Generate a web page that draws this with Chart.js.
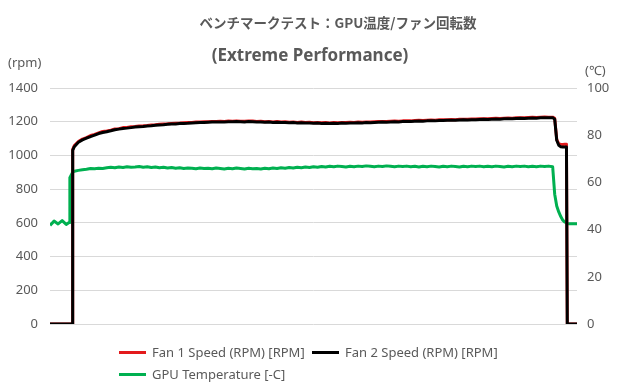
<!DOCTYPE html>
<html>
<head>
<meta charset="utf-8">
<script src="https://cdn.jsdelivr.net/npm/chart.js@4"></script>
<style>
  body { margin: 0; background: #fff; }
  #wrap { position: relative; width: 620px; height: 390px; font-family: "Noto Sans", sans-serif; color: #595959; }
  canvas { position: absolute; left: 0; top: 0; }
  .t { position: absolute; white-space: nowrap; }
  .title { font-weight: bold; transform: translateX(-50%); }
  .unit { font-size: 13px; }
  .leg { position: absolute; font-size: 13px; display: flex; align-items: center; white-space: nowrap; }
  .leg i { display: inline-block; width: 27px; height: 3px; margin-right: 6px; }
</style>
</head>
<body>
<div id="wrap">
  <canvas id="chart" width="620" height="390"></canvas>
  <div class="t title" style="left:338px; top:12px; font-family:'Noto Sans CJK JP', sans-serif; font-size:13.5px;">ベンチマークテスト：GPU温度/ファン回転数</div>
  <div class="t title" style="left:310px; top:43px; font-family:'Noto Sans', sans-serif; font-size:17px;">(Extreme Performance)</div>
  <div class="t unit" style="left:8px; top:53px;">(rpm)</div>
  <div class="t unit" style="left:585px; top:61px;">(℃)</div>
  <div id="legend"></div>
</div>
<script>
// sample times (s)
const times = [
  0, 10, 20, 30, 40, 47, 49, 55, 56, 60, 70, 80, 90,
  100, 110, 120, 130, 140, 150, 160, 170, 180, 190,
  200, 210, 220, 230, 240, 250, 260, 270, 280, 290,
  300, 310, 320, 330, 340, 350, 360, 370, 380, 390,
  400, 410, 420, 430, 440, 450, 460, 470, 480, 490,
  500, 510, 520, 530, 540, 550, 560, 570, 580, 590,
  600, 610, 620, 630, 640, 650, 660, 670, 680, 690,
  700, 710, 720, 730, 740, 750, 760, 770, 780, 790,
  800, 810, 820, 830, 840, 850, 860, 870, 880, 890,
  900, 910, 920, 930, 940, 950, 960, 970, 980, 990,
  1000, 1010, 1020, 1030, 1040, 1050, 1060, 1070, 1080, 1090,
  1100, 1110, 1120, 1130, 1140, 1150, 1160, 1170, 1180, 1190,
  1200, 1210, 1220, 1230, 1240, 1245, 1250, 1255, 1260, 1265, 1270, 1274, 1276, 1280, 1290, 1300
];

const fan1 = [
  0, 0, 0, 0, 0, 0, 0, 0, 1036, 1058, 1082, 1097, 1106,
  1118, 1124, 1133, 1142, 1145, 1150, 1157, 1159, 1165, 1166,
  1170, 1171, 1175, 1176, 1178, 1181, 1182, 1185, 1187, 1188,
  1190, 1191, 1192, 1194, 1195, 1196, 1198, 1198, 1200, 1200,
  1202, 1201, 1203, 1202, 1204, 1203, 1205, 1203, 1203, 1204,
  1204, 1201, 1203, 1200, 1202, 1199, 1201, 1198, 1200, 1197,
  1199, 1196, 1198, 1195, 1197, 1194, 1196, 1194, 1195, 1193,
  1195, 1194, 1196, 1195, 1197, 1196, 1198, 1197, 1199, 1198,
  1200, 1201, 1202, 1201, 1203, 1204, 1203, 1205, 1206, 1205,
  1207, 1208, 1207, 1209, 1210, 1209, 1211, 1211, 1212, 1213,
  1212, 1214, 1215, 1214, 1216, 1216, 1217, 1218, 1217, 1219,
  1220, 1219, 1221, 1222, 1221, 1223, 1224, 1223, 1225, 1226,
  1225, 1227, 1228, 1227, 1227, 1220, 1095, 1068, 1066, 1065, 1066, 1066, 0, 0, 0, 0
];

const fan2 = [
  0, 0, 0, 0, 0, 0, 0, 0, 1030, 1052, 1078, 1092, 1102,
  1112, 1120, 1130, 1136, 1141, 1146, 1152, 1156, 1160, 1162,
  1165, 1168, 1170, 1172, 1175, 1176, 1179, 1181, 1182, 1185,
  1186, 1187, 1189, 1190, 1191, 1193, 1194, 1195, 1196, 1197,
  1198, 1198, 1199, 1199, 1200, 1200, 1201, 1200, 1199, 1201,
  1200, 1198, 1199, 1197, 1198, 1196, 1197, 1195, 1196, 1194,
  1195, 1193, 1194, 1192, 1193, 1191, 1192, 1190, 1191, 1189,
  1191, 1190, 1192, 1191, 1193, 1192, 1194, 1193, 1195, 1194,
  1196, 1197, 1198, 1197, 1199, 1200, 1199, 1201, 1202, 1201,
  1203, 1204, 1203, 1205, 1206, 1205, 1207, 1207, 1208, 1209,
  1208, 1210, 1211, 1210, 1212, 1212, 1213, 1214, 1213, 1215,
  1216, 1215, 1217, 1218, 1217, 1219, 1220, 1219, 1221, 1222,
  1221, 1223, 1224, 1223, 1224, 1215, 1090, 1060, 1052, 1050, 1050, 1050, 0, 0, 0, 0
];

const gpuTemp = [
  41.8, 43.6, 42.4, 43.8, 42.2, 43.0, 62.0, 64.0, 64.3, 64.7, 65.1, 65.4, 65.6,
  65.9, 65.8, 66.0, 65.9, 66.2, 66.4, 66.2, 66.5, 66.3, 66.6,
  66.4, 66.5, 66.7, 66.4, 66.6, 66.3, 66.5, 66.2, 66.4, 66.1,
  66.3, 66.0, 66.2, 65.9, 66.1, 66.0, 65.8, 66.1, 65.9, 66.0,
  65.8, 66.1, 65.9, 65.7, 66.0, 65.8, 66.1, 65.9, 65.7, 66.0,
  65.8, 65.9, 65.7, 66.0, 65.8, 66.1, 65.9, 66.2, 66.0, 66.3,
  66.1, 66.4, 66.2, 66.5, 66.3, 66.6, 66.4, 66.7, 66.5, 66.8,
  66.6, 66.9, 66.7, 66.5, 66.8, 66.6, 66.9, 66.7, 67.0, 66.8,
  66.6, 66.9, 66.7, 67.0, 66.8, 66.6, 66.9, 66.7, 66.9, 66.6,
  66.8, 66.5, 66.8, 66.6, 66.9, 66.7, 66.5, 66.8, 66.6, 66.9,
  66.7, 66.5, 66.8, 66.6, 66.9, 66.7, 66.9, 66.6, 66.8, 66.6,
  66.9, 66.7, 66.5, 66.8, 66.6, 66.9, 66.7, 66.9, 66.6, 66.8,
  66.6, 66.9, 66.7, 66.9, 66.6, 55.0, 50.0, 47.5, 45.5, 44.0, 43.2, 42.8, 42.6, 42.5, 42.5, 42.5
];

const rpmTicks = [0, 200, 400, 600, 800, 1000, 1200, 1400];
const tempTicks = [0, 20, 40, 60, 80, 100];

const seriesNames = ['Fan 1 Speed (RPM) [RPM]', 'Fan 2 Speed (RPM) [RPM]', 'GPU Temperature [-C]'];
const seriesColors = ['#e31a1c', '#000000', '#00b050'];

function points(values) {
    return times.map((t, i) => ({ x: t, y: values[i] }));
}

const ctx = document.getElementById('chart').getContext('2d');
new Chart(ctx, {
    type: 'line',
    data: {
        datasets: [
            { label: seriesNames[0], data: points(fan1), borderColor: seriesColors[0], yAxisID: 'y', order: 1 },
            { label: seriesNames[1], data: points(fan2), borderColor: seriesColors[1], yAxisID: 'y', order: 0 },
            { label: seriesNames[2], data: points(gpuTemp), borderColor: seriesColors[2], yAxisID: 'y1', order: 2 }
        ]
    },
    options: {
        responsive: false,
        animation: false,
        layout: { padding: { top: 88, bottom: 66, left: 0, right: 0 } },
        elements: {
            line: { borderWidth: 3, tension: 0, borderJoinStyle: 'round' },
            point: { radius: 0 }
        },
        plugins: { legend: { display: false }, title: { display: false }, tooltip: { enabled: false } },
        scales: {
            x: { type: 'linear', min: 0, max: 1300, display: false },
            y: {
                position: 'left',
                min: 0, max: 1400,
                afterBuildTicks: s => { s.ticks = rpmTicks.map(v => ({ value: v })); },
                afterFit: s => { s.width = 50; },
                grid: { color: '#d9d9d9', drawTicks: false },
                border: { display: false },
                ticks: { color: '#595959', padding: 12, font: { family: 'Noto Sans', size: 13 }, callback: v => String(v) }
            },
            y1: {
                position: 'right',
                min: 0, max: 100,
                afterBuildTicks: s => { s.ticks = tempTicks.map(v => ({ value: v })); },
                afterFit: s => { s.width = 43; },
                grid: { display: false, drawTicks: false },
                border: { display: false },
                ticks: { color: '#595959', padding: 10, font: { family: 'Noto Sans', size: 13 }, callback: v => String(v) }
            }
        }
    }
});

// legend laid out like the original (two rows, left aligned)
const legendPos = [[119, 343], [312, 343], [119, 365]];
const legend = document.getElementById('legend');
seriesNames.forEach((name, i) => {
    const item = document.createElement('div');
    item.className = 'leg';
    item.style.left = legendPos[i][0] + 'px';
    item.style.top = legendPos[i][1] + 'px';
    item.innerHTML = '<i style="background:' + seriesColors[i] + '"></i>' + name;
    legend.appendChild(item);
});
</script>
</body>
</html>
